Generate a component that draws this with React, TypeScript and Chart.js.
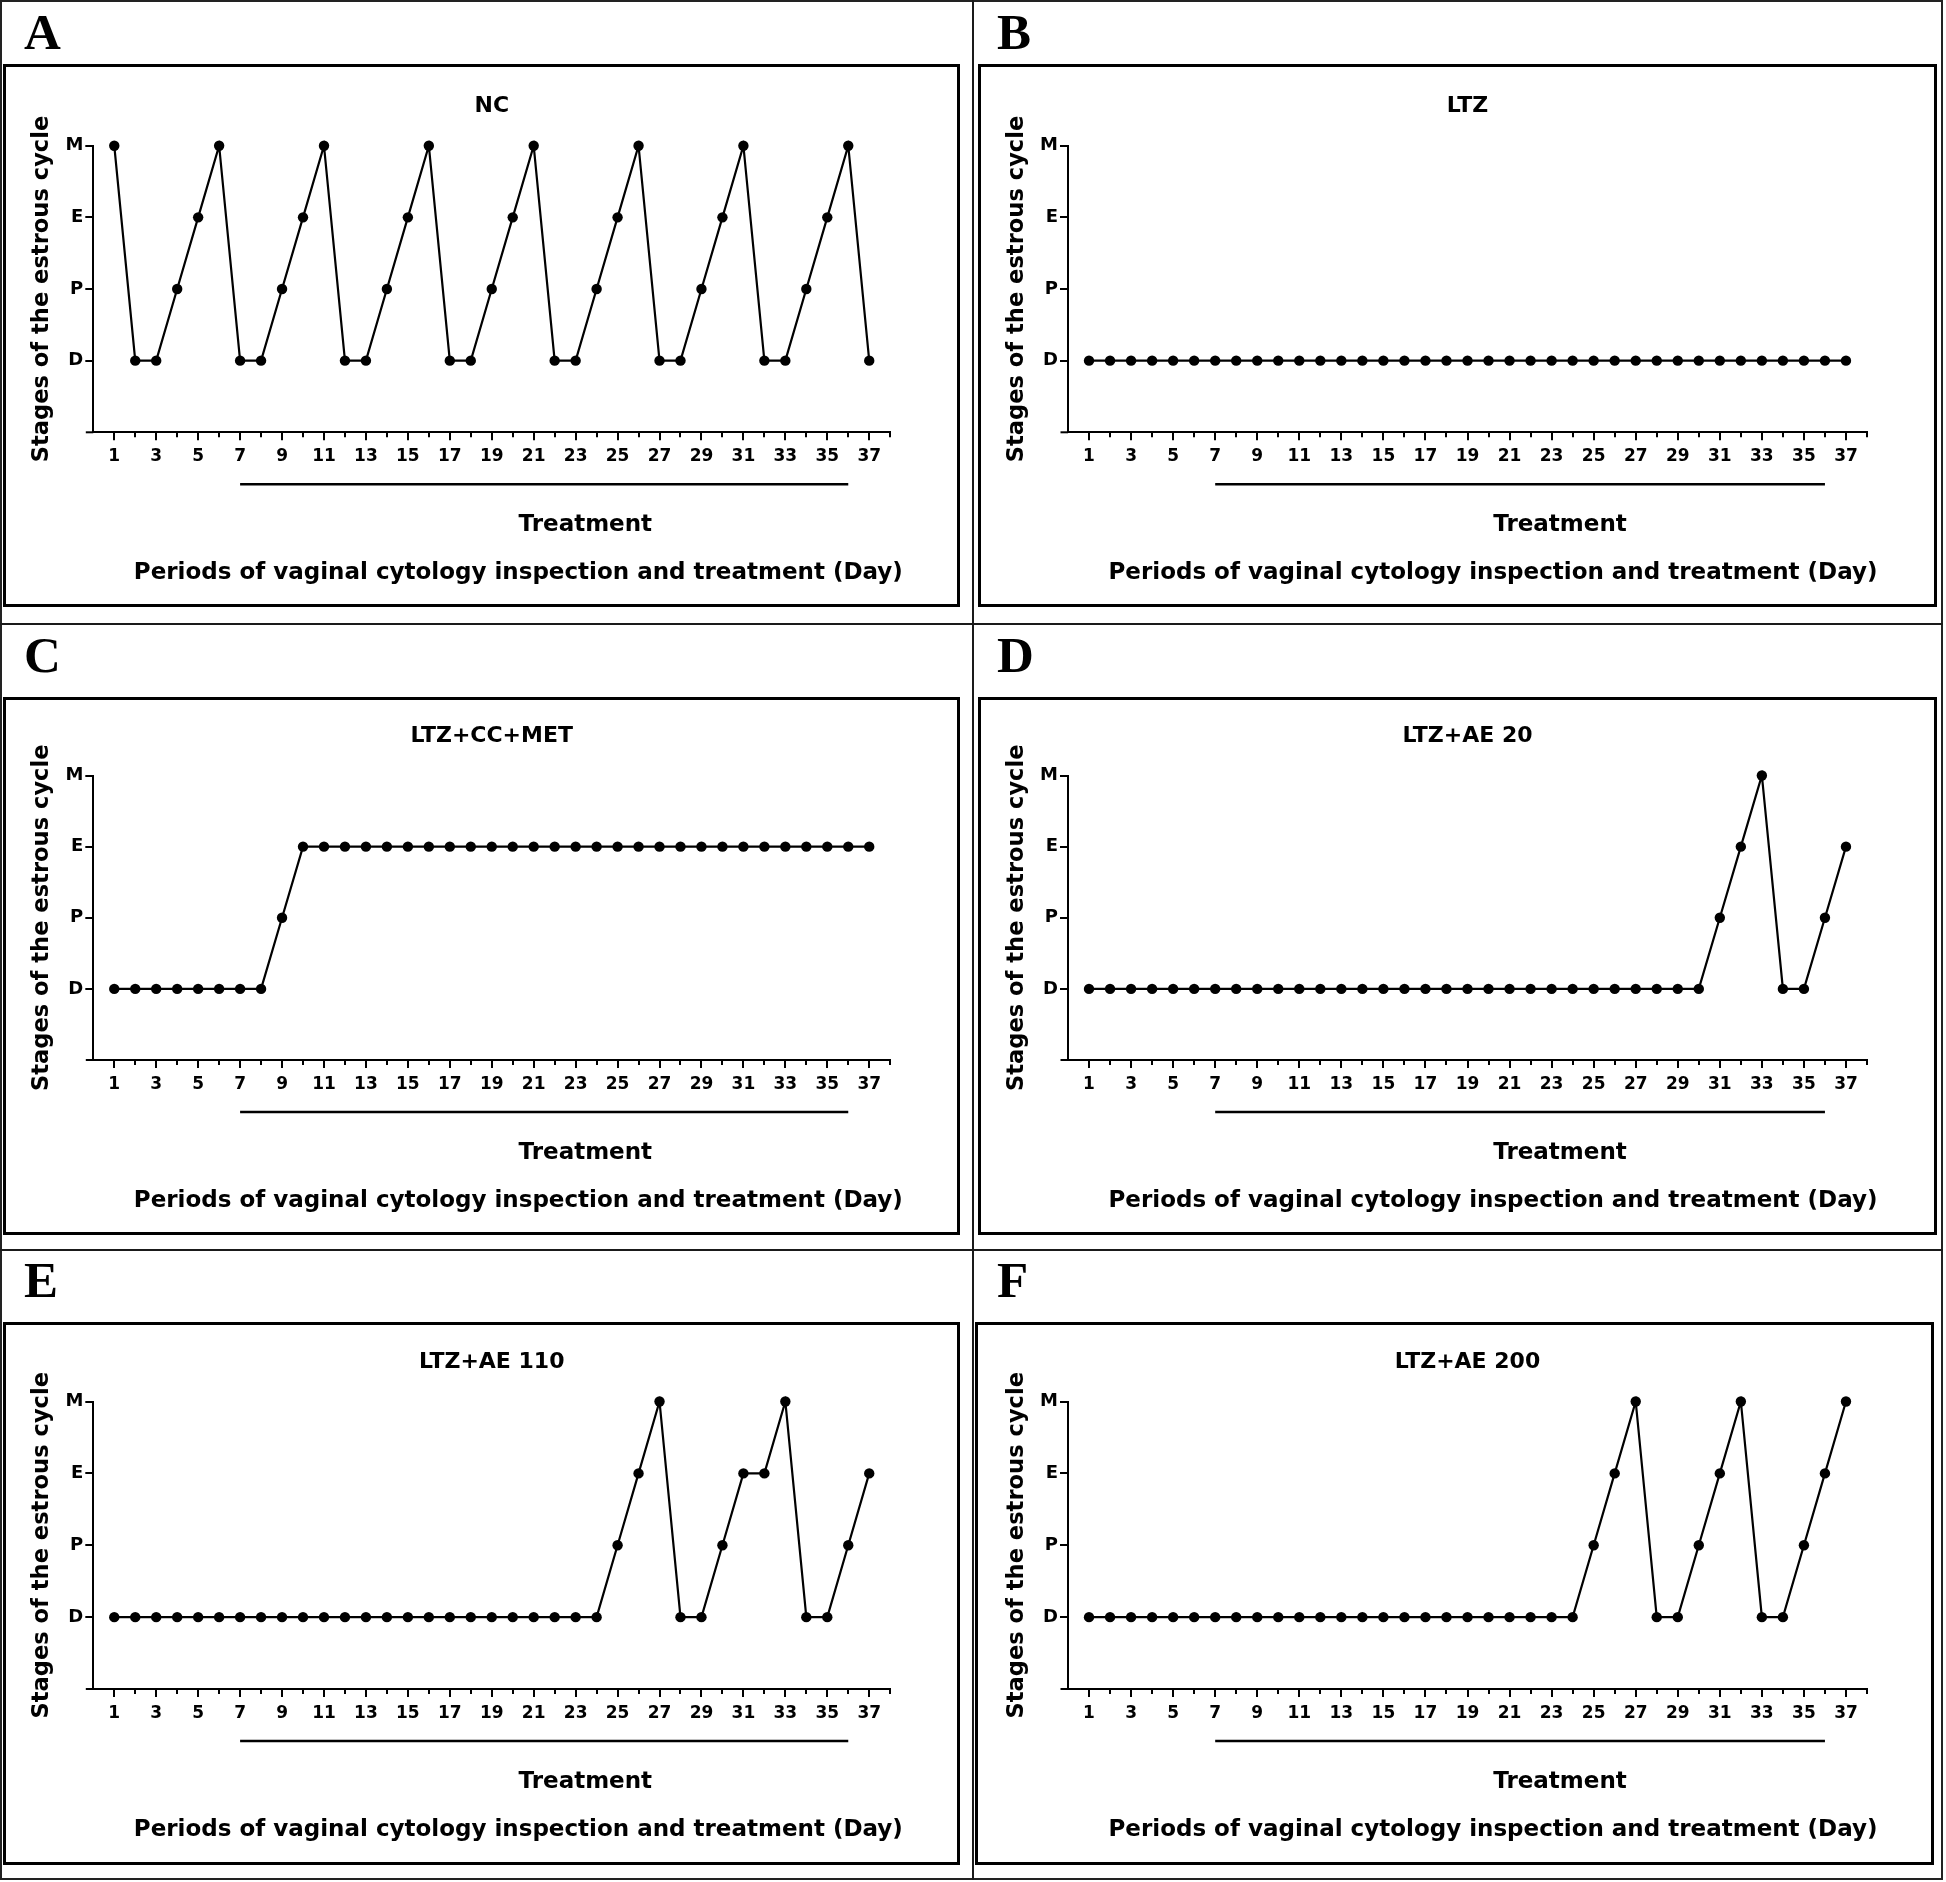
import React, { useEffect, useRef } from 'react';
import { Chart, registerables } from 'chart.js';

Chart.register(...registerables);

// ---------- data ----------
const days = [1, 2, 3, 4, 5, 6, 7, 8, 9, 10, 11, 12, 13, 14, 15, 16, 17, 18, 19, 20, 21, 22, 23, 24, 25, 26, 27, 28, 29, 30, 31, 32, 33, 34, 35, 36, 37];
const xTickPositions = [1, 2, 3, 4, 5, 6, 7, 8, 9, 10, 11, 12, 13, 14, 15, 16, 17, 18, 19, 20, 21, 22, 23, 24, 25, 26, 27, 28, 29, 30, 31, 32, 33, 34, 35, 36, 37, 38];
const xTickLabels = [1, 3, 5, 7, 9, 11, 13, 15, 17, 19, 21, 23, 25, 27, 29, 31, 33, 35, 37];
const yTickLabels = ['D', 'P', 'E', 'M']; // values 1..4
const treatmentStart = 7;
const treatmentEnd = 36;

const ncStages = ['M', 'D', 'D', 'P', 'E', 'M', 'D', 'D', 'P', 'E', 'M', 'D', 'D', 'P', 'E', 'M', 'D', 'D', 'P', 'E', 'M', 'D', 'D', 'P', 'E', 'M', 'D', 'D', 'P', 'E', 'M', 'D', 'D', 'P', 'E', 'M', 'D'];
const ltzStages = ['D', 'D', 'D', 'D', 'D', 'D', 'D', 'D', 'D', 'D', 'D', 'D', 'D', 'D', 'D', 'D', 'D', 'D', 'D', 'D', 'D', 'D', 'D', 'D', 'D', 'D', 'D', 'D', 'D', 'D', 'D', 'D', 'D', 'D', 'D', 'D', 'D'];
const ccMetStages = ['D', 'D', 'D', 'D', 'D', 'D', 'D', 'D', 'P', 'E', 'E', 'E', 'E', 'E', 'E', 'E', 'E', 'E', 'E', 'E', 'E', 'E', 'E', 'E', 'E', 'E', 'E', 'E', 'E', 'E', 'E', 'E', 'E', 'E', 'E', 'E', 'E'];
const ae20Stages = ['D', 'D', 'D', 'D', 'D', 'D', 'D', 'D', 'D', 'D', 'D', 'D', 'D', 'D', 'D', 'D', 'D', 'D', 'D', 'D', 'D', 'D', 'D', 'D', 'D', 'D', 'D', 'D', 'D', 'D', 'P', 'E', 'M', 'D', 'D', 'P', 'E'];
const ae110Stages = ['D', 'D', 'D', 'D', 'D', 'D', 'D', 'D', 'D', 'D', 'D', 'D', 'D', 'D', 'D', 'D', 'D', 'D', 'D', 'D', 'D', 'D', 'D', 'D', 'P', 'E', 'M', 'D', 'D', 'P', 'E', 'E', 'M', 'D', 'D', 'P', 'E'];
const ae200Stages = ['D', 'D', 'D', 'D', 'D', 'D', 'D', 'D', 'D', 'D', 'D', 'D', 'D', 'D', 'D', 'D', 'D', 'D', 'D', 'D', 'D', 'D', 'D', 'D', 'P', 'E', 'M', 'D', 'D', 'P', 'E', 'M', 'D', 'D', 'P', 'E', 'M'];

const yAxisTitle = 'Stages of the estrous cycle';
const treatmentText = 'Treatment';
const xAxisTitle = 'Periods of vaginal cytology inspection and treatment (Day)';

// ---------- layout ----------
const FONT = "'DejaVu Sans', sans-serif";

type Geo = {
  l: number; t: number; r: number; b: number;
  cl: number; cr: number; ct: number; cb: number;
};

const LEFT_COL = { cl: 93.3, cr: 890.2 };
const RIGHT_COL = { cl: 1068, cr: 1867 };
const ROW1 = { ct: 145.7, cb: 432.3 };
const ROW2 = { ct: 775.5, cb: 1060 };
const ROW3 = { ct: 1401.5, cb: 1689 };

const panels: { letter: string; title: string; stages: string[]; geo: Geo; letterX: number; letterTop: number }[] = [
  { letter: 'A', title: 'NC', stages: ncStages, geo: { l: 3, t: 64, r: 960, b: 607, ...LEFT_COL, ...ROW1 }, letterX: 24, letterTop: 7.3 },
  { letter: 'B', title: 'LTZ', stages: ltzStages, geo: { l: 978, t: 64, r: 1937, b: 607, ...RIGHT_COL, ...ROW1 }, letterX: 997, letterTop: 7.3 },
  { letter: 'C', title: 'LTZ+CC+MET', stages: ccMetStages, geo: { l: 3, t: 697, r: 960, b: 1235, ...LEFT_COL, ...ROW2 }, letterX: 24, letterTop: 630.3 },
  { letter: 'D', title: 'LTZ+AE 20', stages: ae20Stages, geo: { l: 978, t: 697, r: 1937, b: 1235, ...RIGHT_COL, ...ROW2 }, letterX: 997, letterTop: 630.3 },
  { letter: 'E', title: 'LTZ+AE 110', stages: ae110Stages, geo: { l: 3, t: 1322, r: 960, b: 1865, ...LEFT_COL, ...ROW3 }, letterX: 24, letterTop: 1255.3 },
  { letter: 'F', title: 'LTZ+AE 200', stages: ae200Stages, geo: { l: 975, t: 1322, r: 1934, b: 1865, ...RIGHT_COL, ...ROW3 }, letterX: 997, letterTop: 1255.3 },
];

const overlayPlugin = {
  id: 'overlay',
  afterDraw(chart: any) {
    const { ctx, chartArea } = chart;
    const x = chart.scales.x;
    const { left, bottom } = chartArea;
    ctx.save();
    ctx.strokeStyle = '#000';
    ctx.fillStyle = '#000';
    ctx.lineWidth = 2;
    // small extension of the x axis to the left of the y axis
    ctx.beginPath();
    ctx.moveTo(left - 7.5, bottom);
    ctx.lineTo(left, bottom);
    ctx.stroke();
    // minor (unlabelled) tick marks
    for (const v of xTickPositions) {
      if (xTickLabels.includes(v)) continue;
      const px = Math.round(x.getPixelForValue(v));
      ctx.beginPath();
      ctx.moveTo(px, bottom);
      ctx.lineTo(px, bottom + 5);
      ctx.stroke();
    }
    // treatment bar
    ctx.lineWidth = 2.5;
    ctx.beginPath();
    ctx.moveTo(x.getPixelForValue(treatmentStart), bottom + 52);
    ctx.lineTo(x.getPixelForValue(treatmentEnd), bottom + 52);
    ctx.stroke();
    // texts
    ctx.textAlign = 'center';
    ctx.textBaseline = 'alphabetic';
    ctx.font = `bold 23px ${FONT}`;
    ctx.fillText(treatmentText, left + 492, bottom + 98.7);
    ctx.fillText(xAxisTitle, left + 425, bottom + 146.7);
    ctx.restore();
  },
};

function Panel({ title, stages, geo }: { title: string; stages: string[]; geo: Geo }) {
  const ref = useRef<HTMLCanvasElement>(null);
  const width = geo.r - geo.l;
  const height = geo.b - geo.t;

  useEffect(() => {
    const canvas = ref.current;
    if (!canvas) return;
    const yW = geo.cl - geo.l;
    const xH = geo.b - geo.cb;
    const topPad = geo.ct - geo.t;
    const rightPad = geo.r - geo.cr;
    const yTitlePad = yW - 51.1 - 13.56;

    const chart = new Chart(canvas, {
      type: 'line',
      data: {
        datasets: [
          {
            data: days.map((d, i) => ({ x: d, y: yTickLabels.indexOf(stages[i]) + 1 })),
            borderColor: '#000',
            backgroundColor: '#000',
            borderWidth: 2.2,
            pointRadius: 5.2,
            pointHoverRadius: 5.2,
            pointBackgroundColor: '#000',
            pointBorderWidth: 0,
            tension: 0,
            clip: false as any,
          },
        ],
      },
      options: {
        animation: false,
        responsive: false,
        devicePixelRatio: 1,
        events: [],
        layout: { padding: { left: 0, top: 0, right: rightPad, bottom: 0 } },
        plugins: {
          legend: { display: false },
          tooltip: { enabled: false },
          title: {
            display: true,
            text: title,
            fullSize: false,
            color: '#000',
            font: { family: FONT, weight: 'bold', size: 22 },
            padding: { top: topPad - 52.8, bottom: 26.4 },
          },
        },
        scales: {
          x: {
            type: 'linear',
            min: 0,
            max: 38,
            afterBuildTicks: (s: any) => {
              s.ticks = xTickPositions.map((v) => ({ value: v }));
            },
            afterFit: (s: any) => {
              s.height = xH;
            },
            ticks: {
              autoSkip: false,
              maxRotation: 0,
              minRotation: 0,
              padding: 6.5,
              color: '#000',
              font: { family: FONT, weight: 'bold', size: 17 },
              callback: (v: any) => (xTickLabels.includes(Number(v)) ? String(v) : ''),
            },
            grid: {
              drawOnChartArea: false,
              tickLength: 8,
              lineWidth: 2,
              color: '#000',
              tickColor: (c: any) => (c.tick && xTickLabels.includes(c.tick.value) ? '#000' : 'rgba(0,0,0,0)'),
            },
            border: { display: true, color: '#000', width: 2 },
          },
          y: {
            type: 'linear',
            min: 0,
            max: 4,
            afterBuildTicks: (s: any) => {
              s.ticks = yTickLabels.map((_, i) => ({ value: i + 1 }));
            },
            afterFit: (s: any) => {
              s.width = yW;
            },
            ticks: {
              padding: 2,
              color: '#000',
              font: { family: FONT, weight: 'bold', size: 18 },
              callback: (v: any) => yTickLabels[Number(v) - 1] ?? '',
            },
            grid: { drawOnChartArea: false, tickLength: 8, lineWidth: 2, color: '#000' },
            border: { display: true, color: '#000', width: 2 },
            title: {
              display: true,
              text: yAxisTitle,
              color: '#000',
              font: { family: FONT, weight: 'bold', size: 22.6 },
              padding: { top: yTitlePad, bottom: 0 },
            },
          },
        },
      } as any,
      plugins: [overlayPlugin],
    });
    return () => chart.destroy();
  }, [title, stages, geo]);

  return (
    <canvas
      ref={ref}
      width={width}
      height={height}
      style={{ position: 'absolute', left: geo.l, top: geo.t, width, height }}
    />
  );
}

export default function App() {
  const line = (style: React.CSSProperties) => (
    <div style={{ position: 'absolute', background: '#1a1a1a', ...style }} />
  );
  return (
    <div style={{ position: 'absolute', left: 0, top: 0, width: 1946, height: 1882, background: '#fff', overflow: 'hidden' }}>
      {/* outer frame and cell dividers */}
      <div style={{ position: 'absolute', left: 0, top: 0, width: 1943, height: 1880, border: '2px solid #222', boxSizing: 'border-box' }} />
      {line({ left: 972, top: 0, width: 2, height: 1880 })}
      {line({ left: 0, top: 623, width: 1943, height: 2 })}
      {line({ left: 0, top: 1249, width: 1943, height: 2 })}
      {panels.map((p) => (
        <React.Fragment key={p.letter}>
          <Panel title={p.title} stages={p.stages} geo={p.geo} />
          <div
            style={{
              position: 'absolute',
              left: p.geo.l,
              top: p.geo.t,
              width: p.geo.r - p.geo.l,
              height: p.geo.b - p.geo.t,
              border: '3px solid #000',
              boxSizing: 'border-box',
              pointerEvents: 'none',
            }}
          />
          <div
            style={{
              position: 'absolute',
              left: p.letterX,
              top: p.letterTop,
              fontFamily: "'Liberation Serif', 'Times New Roman', serif",
              fontWeight: 'bold',
              fontSize: 51,
              lineHeight: '51px',
              color: '#000',
            }}
          >
            {p.letter}
          </div>
        </React.Fragment>
      ))}
    </div>
  );
}
